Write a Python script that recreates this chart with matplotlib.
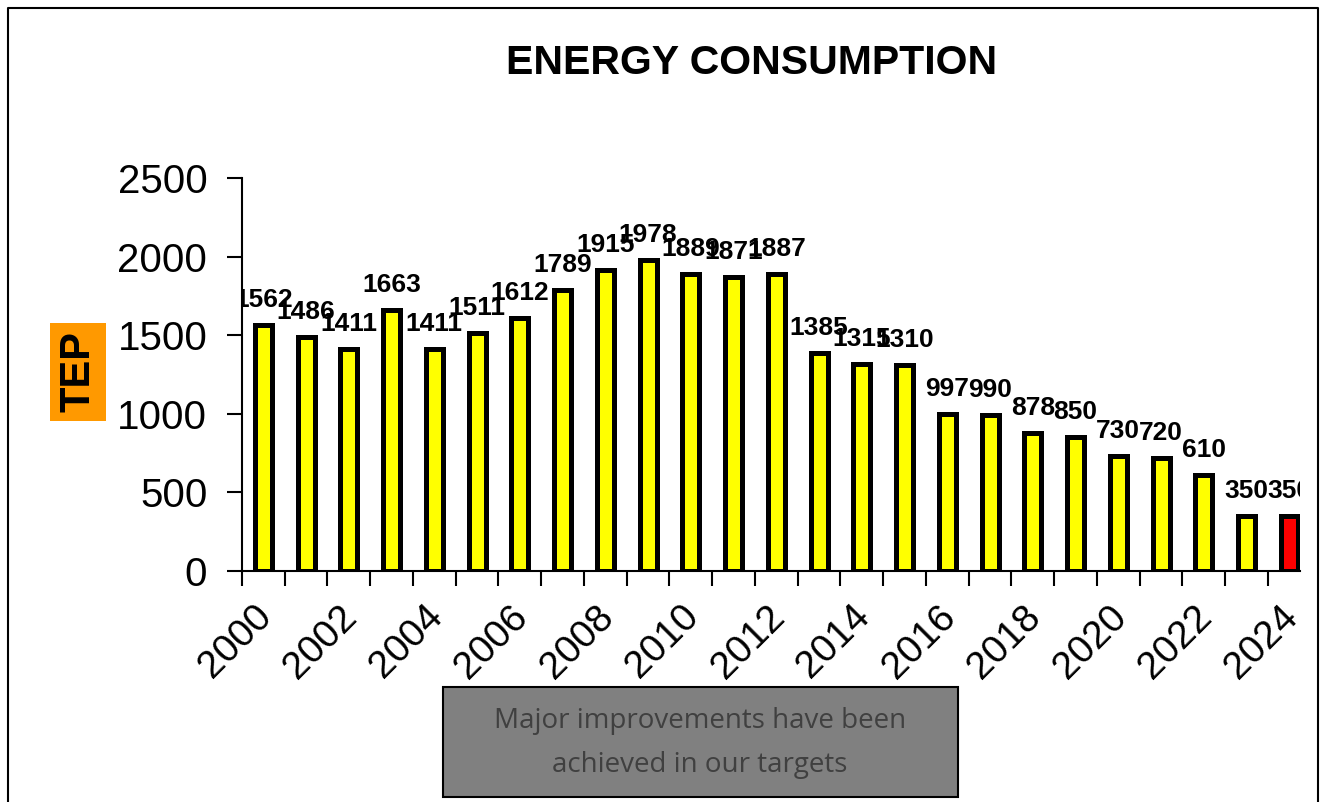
import matplotlib.pyplot as plt
from matplotlib.lines import Line2D
from matplotlib.patches import Rectangle
from matplotlib.transforms import ScaledTranslation
import numpy as np

years = list(range(2000, 2025))
tep = [1562, 1486, 1411, 1663, 1411, 1511, 1612, 1789, 1915, 1978, 1889, 1871,
       1887, 1385, 1315, 1310, 997, 990, 878, 850, 730, 720, 610, 350, 350]
bar_colors = ['#FFFF00'] * 24 + ['#FF0000']
y_ticks = [0, 500, 1000, 1500, 2000, 2500]

plt.rcParams['font.family'] = ['Liberation Sans', 'DejaVu Sans']

W, H = 1327, 802
fig = plt.figure(figsize=(W / 100, H / 100), dpi=100)
ax = fig.add_axes([242 / W, (H - 571) / H, (1300 - 242) / W, (571 - 178) / H])

x = np.arange(len(years))
ax.bar(x, tep, width=0.40, color=bar_colors, edgecolor='black', linewidth=3.6, zorder=3)

for xi, v in zip(x, tep):
    ax.annotate(str(v), (xi, v), xytext=(0, 13), textcoords='offset points',
                ha='center', va='baseline', fontsize=19, fontweight='bold',
                clip_on=True)

ax.set_xlim(-0.5, 24.25)
ax.set_ylim(0, 2500)
ax.set_yticks(y_ticks)
ax.tick_params(axis='y', labelsize=29, length=11, width=1.5, direction='out', pad=14)

# year labels on every other bar, tick marks at category boundaries
ax.set_xticks(x[::2])
ax.set_xticklabels([str(y) for y in years[::2]], rotation=45, ha='right',
                   va='top', rotation_mode='anchor', fontsize=28)
ax.tick_params(axis='x', which='major', length=0, pad=14)
ax.set_xticks(np.arange(-0.5, 24, 1), minor=True)
ax.tick_params(axis='x', which='minor', length=11, width=1.5, direction='out')
shift = ScaledTranslation(-10 / 100, -8 / 100, fig.dpi_scale_trans)
for lab in ax.get_xticklabels():
    lab.set_transform(lab.get_transform() + shift)

for s in ['top', 'right']:
    ax.spines[s].set_visible(False)
for s in ['left', 'bottom']:
    ax.spines[s].set_linewidth(1.5)

fig.text(752 / W, 1 - 63 / H, 'ENERGY CONSUMPTION', ha='center', va='center',
         fontsize=29.5, fontweight='bold')

fig.text(78 / W, 1 - 372 / H, 'TEP', rotation=90, ha='center', va='center',
         fontsize=30, fontweight='bold',
         bbox=dict(boxstyle='square,pad=0.2', facecolor='#FF9900', edgecolor='none'))

# note box below the axis
fig.patches.append(Rectangle((443 / W, 1 - 797 / H), (958 - 443) / W, (797 - 687) / H,
                             transform=fig.transFigure, facecolor='#808080',
                             edgecolor='black', linewidth=1.5))
fig.text(700 / W, 1 - 743 / H, 'Major improvements have been\nachieved in our targets',
         ha='center', va='center', fontsize=20, color='#404040',
         family=['Open Sans', 'DejaVu Sans'], linespacing=1.8)

# outer frame (left, top, right)
fx0, fx1, fy = 8 / W, 1318 / W, 1 - 8 / H
fig.add_artist(Line2D([fx0, fx0, fx1, fx1], [0, fy, fy, 0], transform=fig.transFigure,
                      color='black', linewidth=1.5))

fig.savefig('out.png', dpi=100)
